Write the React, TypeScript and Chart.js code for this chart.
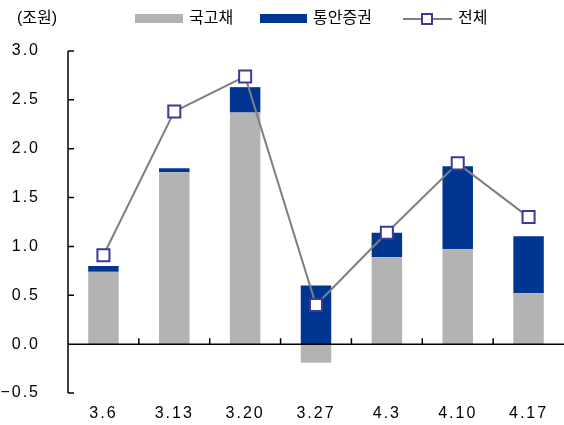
import React, { useEffect, useRef } from "react";
import { Chart, registerables } from "chart.js";

Chart.register(...registerables);

const categories = ["3.6", "3.13", "3.20", "3.27", "4.3", "4.10", "4.17"];
const govBonds = [0.74, 1.76, 2.37, -0.19, 0.89, 0.97, 0.52];
const msBonds = [0.06, 0.04, 0.26, 0.6, 0.25, 0.85, 0.585];
const totals = [0.91, 2.38, 2.74, 0.4, 1.14, 1.85, 1.3];
const yMin = -0.5;
const yMax = 3.0;
const yStep = 0.5;
const unitLabel = "(조원)";
const seriesNames = ["국고채", "통안증권", "전체"];

const GRAY = "#b3b3b3";
const BLUE = "#003591";
const LINE = "#7f7f7f";
const MARK = "#3b3a9c";
const FONT = "'Liberation Sans', 'Noto Sans CJK KR', sans-serif";

const axisPlugin = {
  id: "axisDecor",
  beforeDraw(chart: any) {
    chart.ctx.letterSpacing = "2px";
  },
  afterDatasetsDraw(chart: any) {
    const { ctx, chartArea, scales } = chart;
    const x = scales.x;
    const y = scales.y;
    const y0 = y.getPixelForValue(0);
    const ax = chartArea.left;
    ctx.save();
    ctx.strokeStyle = "#000";
    ctx.lineWidth = 1.5;
    ctx.beginPath();
    ctx.moveTo(ax, y.getPixelForValue(yMax));
    ctx.lineTo(ax, y.getPixelForValue(yMin));
    ctx.moveTo(ax, y0);
    ctx.lineTo(chartArea.right, y0);
    for (let v = yMin; v <= yMax + 1e-9; v += yStep) {
      const py = y.getPixelForValue(v);
      ctx.moveTo(ax, py);
      ctx.lineTo(ax + 6, py);
    }
    for (let i = 1; i < categories.length; i++) {
      const bx = (x.getPixelForValue(i - 1) + x.getPixelForValue(i)) / 2;
      ctx.moveTo(bx, y0);
      ctx.lineTo(bx, y0 - 6);
    }
    ctx.stroke();
    ctx.restore();
  },
};

export default function App() {
  const ref = useRef<HTMLCanvasElement | null>(null);

  useEffect(() => {
    document.body.style.margin = "0";
    document.body.style.overflow = "hidden";
    const chart = new Chart(ref.current as HTMLCanvasElement, {
      type: "bar",
      data: {
        labels: categories,
        datasets: [
          {
            type: "line",
            label: seriesNames[2],
            data: totals,
            borderColor: LINE,
            borderWidth: 2,
            pointStyle: "rect",
            pointRadius: 8.5,
            pointBorderColor: MARK,
            pointBorderWidth: 2,
            pointBackgroundColor: "#fff",
            stack: "line",
            order: 0,
            tension: 0,
            clip: false,
          } as any,
          {
            type: "bar",
            label: seriesNames[0],
            data: govBonds,
            backgroundColor: GRAY,
            stack: "bars",
            order: 1,
            barPercentage: 0.43,
            categoryPercentage: 1,
          },
          {
            type: "bar",
            label: seriesNames[1],
            data: msBonds,
            backgroundColor: BLUE,
            stack: "bars",
            order: 1,
            barPercentage: 0.43,
            categoryPercentage: 1,
          },
        ],
      },
      options: {
        animation: false,
        responsive: true,
        maintainAspectRatio: false,
        layout: { autoPadding: false, padding: { top: 51, left: 0, right: 0, bottom: 0 } },
        plugins: { legend: { display: false }, tooltip: { enabled: false } },
        scales: {
          x: {
            stacked: true,
            grid: { display: false },
            border: { display: false },
            ticks: { color: "#000", font: { family: FONT, size: 16 }, padding: 3 },
            afterFit(scale: any) {
              scale.height = 32;
              scale.paddingLeft = 0;
              scale.paddingRight = 0;
            },
          },
          y: {
            stacked: true,
            min: yMin,
            max: yMax,
            grid: { display: false },
            border: { display: false },
            ticks: {
              stepSize: yStep,
              color: "#000",
              font: { family: FONT, size: 16 },
              padding: 20,
              callback: (v: any) => Number(v).toFixed(1).replace("-", "\u2212"),
            },
            afterFit(scale: any) {
              scale.width = 68;
            },
          },
        },
      },
      plugins: [axisPlugin],
    });
    return () => chart.destroy();
  }, []);

  const txt: React.CSSProperties = {
    position: "absolute",
    top: 8,
    lineHeight: "20px",
    fontSize: 16,
    fontFamily: FONT,
    color: "#000",
    whiteSpace: "nowrap",
  };

  return (
    <div
      style={{
        position: "absolute",
        left: 0,
        top: 0,
        width: 564,
        height: 425,
        overflow: "hidden",
      }}
    >
      <canvas ref={ref} style={{ display: "block" }} />
      <span style={{ ...txt, left: 17 }}>{unitLabel}</span>
      <div style={{ position: "absolute", left: 135, top: 14, width: 48, height: 9, background: GRAY }} />
      <span style={{ ...txt, left: 189 }}>{seriesNames[0]}</span>
      <div style={{ position: "absolute", left: 260, top: 14, width: 47, height: 9, background: BLUE }} />
      <span style={{ ...txt, left: 313 }}>{seriesNames[1]}</span>
      <div style={{ position: "absolute", left: 403, top: 18, width: 49, height: 2, background: LINE }} />
      <div
        style={{
          position: "absolute",
          left: 421,
          top: 13,
          width: 8,
          height: 8,
          background: "#fff",
          border: `2px solid ${MARK}`,
        }}
      />
      <span style={{ ...txt, left: 458 }}>{seriesNames[2]}</span>
    </div>
  );
}
